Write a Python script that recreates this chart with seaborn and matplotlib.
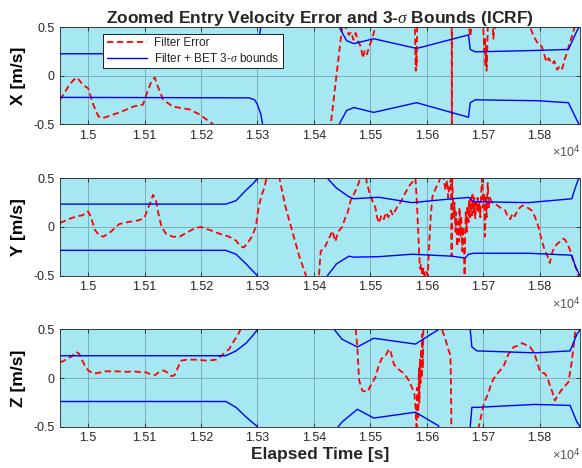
import numpy as np
import pandas as pd
import matplotlib.pyplot as plt
import seaborn as sns

sns.set_theme(style='ticks')
plt.rcParams['font.family'] = ['Liberation Sans', 'DejaVu Sans']
plt.rcParams['mathtext.fontset'] = 'custom'
plt.rcParams['mathtext.it'] = 'Liberation Serif:italic'

# ---- data (time [s], velocity error [m/s]) ----
x_bnd_t = [14950, 15285, 15295, 15300, 15306, 15309, 15330, 15420, 15445, 15458, 15471, 15506,
           15582, 15674, 15677, 15686, 15798, 15851, 15866, 15880]
x_upper = [0.225, 0.225, 0.235, 0.3, 0.5, 0.6, 1.2, 1.2, 0.5, 0.36, 0.33, 0.38,
           0.28, 0.42, 0.27, 0.245, 0.26, 0.27, 0.46, 0.6]
x_lower = [-0.225, -0.23, -0.25, -0.3, -0.4, -0.5, -1.2, -1.2, -0.5, -0.36, -0.33, -0.38,
           -0.28, -0.43, -0.28, -0.25, -0.26, -0.28, -0.46, -0.6]
x_err_t = [14950, 14958, 14966, 14975, 14980, 14986, 14991, 15000, 15009, 15018, 15026, 15040,
           15056, 15080, 15097, 15105, 15112, 15118, 15124, 15133, 15150, 15180, 15197, 15221,
           15240, 15400, 15430, 15450, 15453, 15456, 15462, 15466, 15470, 15474, 15478, 15483,
           15487, 15490, 15494, 15498, 15502, 15506, 15509, 15515, 15575, 15579, 15580, 15580.5,
           15581, 15582, 15583, 15590, 15640, 15644, 15644.5, 15645, 15670, 15675, 15677, 15679,
           15682, 15698, 15700, 15702, 15703, 15704, 15705, 15706, 15707, 15708, 15710, 15716,
           15717, 15718, 15719, 15721, 15725, 15778, 15783, 15790, 15797, 15804, 15808, 15812,
           15816, 15822, 15826, 15831, 15836, 15840, 15844, 15848, 15853, 15857, 15862, 15868]
x_err = [-0.25, -0.18, -0.1, -0.04, -0.02, -0.06, -0.1, -0.13, -0.3, -0.42, -0.44, -0.41,
         -0.38, -0.32, -0.3, -0.17, -0.06, -0.02, -0.12, -0.25, -0.32, -0.35, -0.4, -0.5,
         -0.9, -0.9, -0.5, 0.5, 0.7, 0.5, 0.42, 0.45, 0.37, 0.44, 0.36, 0.3,
         0.18, 0.26, 0.22, 0.3, 0.36, 0.44, 0.5, 0.8, 0.8, 0.5, 0.2, 0.05,
         0.3, 0.1, 0.5, 0.9, 0.9, 0.9, -0.9, 0.9, 0.9, 0.5, 0.4, 0.5,
         0.9, 0.9, 0.5, 0.25, 0.4, 0.1, 0.3, 0.05, 0.2, 0.5, 0.8, 0.8,
         0.5, 0.38, 0.45, 0.5, 0.8, 0.8, 0.5, 0.4, 0.33, 0.3, 0.22, 0.14,
         0.18, 0.12, 0.15, 0.06, 0.1, 0.07, 0.16, 0.23, 0.33, 0.4, 0.5, 0.8]

y_bnd_t = [14950, 15244, 15262, 15280, 15293, 15300, 15320, 15410, 15424, 15440, 15462, 15471,
           15515, 15574, 15645, 15668, 15674, 15683, 15780, 15857, 15863, 15868, 15880]
y_upper = [0.235, 0.235, 0.27, 0.38, 0.45, 0.5, 1.0, 1.0, 0.5, 0.4, 0.31, 0.29,
           0.305, 0.25, 0.29, 0.3, 0.305, 0.26, 0.25, 0.29, 0.4, 0.48, 0.6]
y_lower = [-0.24, -0.24, -0.28, -0.38, -0.46, -0.5, -1.0, -1.0, -0.5, -0.38, -0.3, -0.31,
           -0.305, -0.28, -0.3, -0.32, -0.28, -0.27, -0.27, -0.29, -0.4, -0.46, -0.6]
y_err_t = [14950, 14965, 14980, 14990, 15000, 15005, 15012, 15020, 15027, 15040, 15055, 15070,
           15091, 15100, 15110, 15115, 15120, 15124, 15130, 15138, 15150, 15162, 15174, 15190,
           15200, 15215, 15233, 15250, 15262, 15270, 15276, 15282, 15290, 15297, 15302, 15307,
           15312, 15316, 15322, 15332, 15339, 15350, 15362, 15374, 15386, 15395, 15405, 15409,
           15412, 15420, 15428, 15433, 15438, 15443, 15450, 15456, 15460, 15465, 15472, 15480,
           15484, 15490, 15494, 15500, 15505, 15509, 15512, 15515, 15520, 15524, 15528, 15532,
           15536, 15540, 15547, 15554, 15562, 15570, 15580, 15583, 15586, 15588, 15590, 15592,
           15594, 15596, 15598, 15602, 15604, 15607, 15610, 15616, 15621, 15626, 15630, 15633,
           15636, 15638, 15641, 15643, 15644, 15645, 15646, 15648, 15649, 15651, 15652, 15654,
           15655, 15657, 15658, 15660, 15661, 15663, 15664, 15666, 15667, 15668, 15669, 15671,
           15672, 15674, 15675, 15677, 15678, 15680, 15681, 15683, 15684, 15686, 15687, 15689,
           15690, 15692, 15693, 15695, 15696, 15698, 15700, 15702, 15703, 15705, 15706, 15708,
           15710, 15712, 15716, 15721, 15730, 15739, 15744, 15748, 15752, 15756, 15760, 15765,
           15770, 15775, 15781, 15786, 15792, 15798, 15803, 15809, 15814, 15818, 15823, 15827,
           15832, 15836, 15841, 15845, 15850, 15854, 15858, 15863, 15868, 15875]
y_err = [0.04, 0.08, 0.11, 0.12, 0.16, 0.1, -0.03, -0.09, -0.1, -0.05, 0.03, 0.05,
         0.07, 0.1, 0.25, 0.33, 0.28, 0.15, 0.0, -0.07, -0.1, -0.1, -0.06, -0.01,
         0.0, -0.03, -0.07, -0.1, -0.14, -0.2, -0.21, -0.17, -0.1, 0.0, 0.2, 0.32,
         0.4, 0.5, 0.7, 0.7, 0.5, 0.2, -0.05, -0.3, -0.5, -0.8, -0.8, -0.5,
         -0.25, -0.2, -0.1, -0.04, -0.15, -0.05, 0.0, 0.1, 0.15, 0.27, 0.35, 0.46,
         0.6, 0.6, 0.45, 0.32, 0.25, 0.2, 0.1, 0.04, 0.12, 0.08, 0.15, 0.1,
         0.17, 0.12, 0.2, 0.26, 0.35, 0.43, 0.5, 0.2, -0.2, -0.43, -0.38, -0.5,
         -0.42, -0.5, -0.45, -0.5, -0.2, 0.1, 0.31, 0.4, 0.45, 0.55, 0.5, 0.38,
         0.48, 0.3, 0.45, 0.5, -0.3, 0.5, 0.35, 0.1, 0.25, -0.05, 0.15, -0.2,
         0.05, -0.15, 0.2, -0.1, 0.12, -0.25, 0.0, -0.18, -0.5, -0.1, 0.15, -0.05,
         0.22, 0.05, 0.28, 0.1, 0.3, 0.12, 0.33, 0.15, 0.3, 0.08, 0.25, 0.18,
         0.3, 0.14, 0.26, 0.1, 0.3, 0.5, 0.2, 0.35, -0.1, 0.3, 0.1, 0.45,
         0.2, 0.3, 0.25, 0.24, 0.2, 0.17, 0.1, 0.08, 0.14, 0.11, 0.16, 0.2,
         0.22, 0.21, 0.19, 0.17, 0.1, 0.0, -0.12, -0.24, -0.3, -0.37, -0.25, -0.2,
         -0.17, -0.15, -0.12, -0.13, -0.18, -0.24, -0.32, -0.4, -0.48, -0.7]

z_bnd_t = [14950, 15244, 15262, 15280, 15292, 15300, 15320, 15420, 15436, 15450, 15477, 15506,
           15580, 15621, 15630, 15670, 15677, 15680, 15689, 15792, 15854, 15866, 15872, 15880]
z_upper = [0.23, 0.23, 0.28, 0.36, 0.44, 0.5, 1.0, 1.0, 0.5, 0.4, 0.32, 0.41,
           0.35, 0.5, 1.0, 1.0, 0.5, 0.32, 0.28, 0.26, 0.28, 0.45, 0.5, 0.6]
z_lower = [-0.24, -0.24, -0.3, -0.4, -0.46, -0.5, -1.0, -1.0, -0.55, -0.45, -0.32, -0.41,
           -0.35, -0.49, -1.0, -1.0, -0.5, -0.3, -0.3, -0.27, -0.28, -0.45, -0.5, -0.6]
z_err_t = [14950, 14955, 14962, 14970, 14979, 14984, 14988, 14994, 15000, 15008, 15015, 15030,
           15050, 15070, 15080, 15095, 15103, 15110, 15118, 15125, 15133, 15140, 15148, 15153,
           15160, 15165, 15175, 15191, 15210, 15227, 15238, 15250, 15258, 15265, 15270, 15280,
           15465, 15474, 15477, 15480, 15486, 15495, 15502, 15509, 15515, 15520, 15527, 15533,
           15536, 15542, 15548, 15557, 15563, 15568, 15574, 15578, 15580, 15582, 15583, 15585,
           15586, 15587, 15588, 15589, 15590, 15591, 15592, 15593, 15594, 15596, 15622, 15627,
           15633, 15638, 15642, 15643, 15644, 15688, 15692, 15696, 15700, 15704, 15709, 15713,
           15718, 15723, 15727, 15736, 15745, 15750, 15754, 15760, 15769, 15776, 15783, 15788,
           15792, 15797, 15801, 15809, 15814, 15818, 15823, 15827, 15833, 15839, 15845, 15851,
           15857, 15863, 15870]
z_err = [0.17, 0.17, 0.2, 0.22, 0.27, 0.25, 0.2, 0.13, 0.08, 0.05, 0.05, 0.07,
         0.07, 0.065, 0.07, 0.06, 0.06, 0.04, 0.03, 0.06, 0.08, 0.06, 0.02, 0.03,
         0.12, 0.18, 0.19, 0.19, 0.18, 0.19, 0.24, 0.3, 0.38, 0.44, 0.5, 0.8,
         0.8, 0.5, 0.32, -0.02, -0.13, -0.14, -0.06, 0.01, 0.13, 0.2, 0.23, 0.3,
         0.27, 0.14, 0.1, 0.06, 0.02, -0.02, -0.1, -0.15, -0.3, -0.5, -0.1, -0.4,
         0.1, -0.25, 0.2, -0.05, 0.3, 0.0, 0.45, 0.1, 0.5, 0.8, 0.8, 0.5,
         0.4, 0.3, 0.23, -0.1, -0.8, -0.8, -0.5, -0.4, -0.29, -0.22, -0.16, -0.08,
         -0.01, 0.03, 0.06, 0.12, 0.25, 0.28, 0.32, 0.33, 0.36, 0.34, 0.32, 0.28,
         0.23, 0.14, 0.06, 0.05, 0.0, -0.07, -0.15, -0.23, -0.17, -0.12, -0.08, -0.04,
         0.17, 0.47, 0.8]

x_ticks = [15000, 15100, 15200, 15300, 15400, 15500, 15600, 15700, 15800]
x_tick_labels = ['1.5', '1.51', '1.52', '1.53', '1.54', '1.55', '1.56', '1.57', '1.58']
y_ticks = [-0.5, 0, 0.5]
y_tick_labels = ['-0.5', '0', '0.5']

panels = [
    ('X [m/s]', x_bnd_t, x_upper, x_lower, x_err_t, x_err),
    ('Y [m/s]', y_bnd_t, y_upper, y_lower, y_err_t, y_err),
    ('Z [m/s]', z_bnd_t, z_upper, z_lower, z_err_t, z_err),
]

bg = '#a6e8f2'
axcol = '#262626'
fig = plt.figure(figsize=(5.82, 4.68), dpi=100)
rects = [[0.103, 0.735, 0.894, 0.207],
         [0.103, 0.411, 0.894, 0.208],
         [0.103, 0.088, 0.894, 0.208]]

for i, (name, bt, up, lo, et, ev) in enumerate(panels):
    ax = fig.add_axes(rects[i])
    ax.set_facecolor(bg)
    lab_e = 'Filter Error' if i == 0 else None
    lab_b = 'Filter + BET 3-$\\sigma$ bounds' if i == 0 else None
    sns.lineplot(x=et, y=ev, ax=ax, color='#ff0000', lw=1.3, linestyle=(0, (3.5, 2)),
                 sort=False, estimator=None, errorbar=None, label=lab_e, zorder=3)
    sns.lineplot(x=bt, y=up, ax=ax, color='#0000ff', lw=1.0, sort=False,
                 estimator=None, errorbar=None, label=lab_b, zorder=4)
    sns.lineplot(x=bt, y=lo, ax=ax, color='#0000ff', lw=1.0, sort=False,
                 estimator=None, errorbar=None, zorder=4)
    ax.set_xlim(14950, 15872)
    ax.set_ylim(-0.5, 0.5)
    ax.set_xticks(x_ticks)
    ax.set_xticklabels(x_tick_labels)
    ax.set_yticks(y_ticks)
    ax.set_yticklabels(y_tick_labels)
    ax.tick_params(direction='in', length=3, width=0.6, colors=axcol, labelsize=9,
                   top=True, right=True, pad=4)
    ax.grid(True, color='#7fb0b8', lw=0.7)
    ax.set_axisbelow(True)
    for s in ax.spines.values():
        s.set_color(axcol)
        s.set_linewidth(0.6)
        s.set_zorder(5)
    ax.set_ylabel(name, fontsize=12.5, fontweight='bold', color='black', labelpad=5)
    ax.set_xlabel('')
    ax.text(1.0, -0.2, '\u00d710$^{4}$', transform=ax.transAxes, ha='right', va='top',
            fontsize=9, color='#555555')
    if i == 0:
        ax.set_title('Zoomed Entry Velocity Error and 3-$\\sigma$ Bounds (ICRF)',
                     fontsize=12.5, fontweight='bold', pad=3)
        leg = ax.legend(loc='upper left', bbox_to_anchor=(0.083, 0.93), borderaxespad=0,
                        fontsize=8.5, fancybox=False, framealpha=1, handlelength=3.4,
                        borderpad=0.3, labelspacing=0.2, handletextpad=0.6)
        leg.get_frame().set_edgecolor('black')
        leg.get_frame().set_linewidth(0.6)
    else:
        if ax.get_legend():
            ax.get_legend().remove()
    if i == 2:
        ax.set_xlabel('Elapsed Time [s]', fontsize=12.5, fontweight='bold', labelpad=2)

fig.savefig('out.png', dpi=100)
